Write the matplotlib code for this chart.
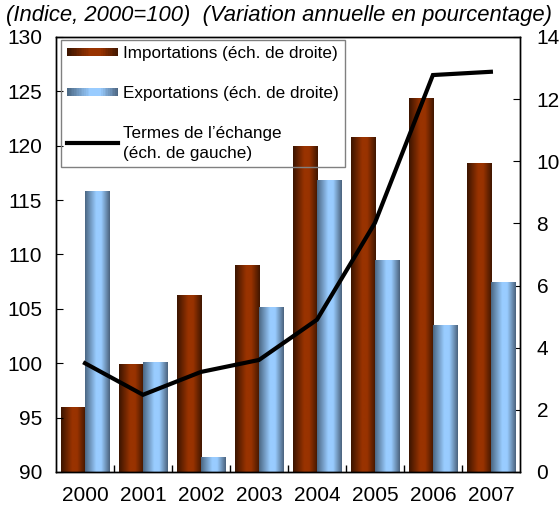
import numpy as np
import matplotlib
matplotlib.use('Agg')
import matplotlib.pyplot as plt
from matplotlib.patches import Rectangle
from matplotlib.lines import Line2D
from matplotlib.legend_handler import HandlerBase
from matplotlib.colors import LinearSegmentedColormap

plt.rcParams['font.family'] = ['Liberation Sans', 'DejaVu Sans']

# Données
annees = ['2000', '2001', '2002', '2003', '2004', '2005', '2006', '2007']
importations = [2.1, 3.48, 5.70, 6.66, 10.49, 10.78, 12.03, 9.94]   # éch. de droite
exportations = [9.05, 3.54, 0.48, 5.31, 9.40, 6.82, 4.73, 6.12]     # éch. de droite
termes_echange = [100.0, 97.1, 99.2, 100.3, 104.0, 112.9, 126.5, 126.8]  # éch. de gauche

# Dégradés horizontaux des barres
cmap_imp = LinearSegmentedColormap.from_list(
    'imp', [(0, '#3a1400'), (0.45, '#993300'), (0.65, '#993300'), (1, '#3f1600')])
cmap_exp = LinearSegmentedColormap.from_list(
    'exp', [(0, '#4a6682'), (0.45, '#99ccff'), (0.65, '#99ccff'), (1, '#4a627c')])


class HandlerGradient(HandlerBase):
    def __init__(self, cmap, n=30):
        super().__init__()
        self.cmap = cmap
        self.n = n

    def create_artists(self, legend, orig_handle, xdescent, ydescent,
                       width, height, fontsize, trans):
        arts = []
        h = height * 0.7
        y0 = -ydescent + (height - h) / 2
        for i in range(self.n):
            r = Rectangle((-xdescent + width * i / self.n, y0), width / self.n * 1.05, h,
                          facecolor=self.cmap((i + 0.5) / self.n), edgecolor='none',
                          transform=trans)
            arts.append(r)
        return arts


fig = plt.figure(figsize=(5.59, 5.08), dpi=100)
ax = fig.add_axes([0.1002, 0.0709, 0.8298, 0.8563])
ax2 = ax.twinx()
ax.set_zorder(ax2.get_zorder() + 1)
ax.patch.set_visible(False)

x = np.arange(len(annees))
w = 0.42
bars_imp = ax2.bar(x - w / 2, importations, width=w, color='#993300', edgecolor='none')
bars_exp = ax2.bar(x + w / 2, exportations, width=w, color='#99ccff', edgecolor='none')

grad = np.linspace(0, 1, 256).reshape(1, -1)
for bars, cmap in [(bars_imp, cmap_imp), (bars_exp, cmap_exp)]:
    for b in bars:
        x0, y0 = b.get_x(), b.get_y()
        im = ax2.imshow(grad, cmap=cmap, aspect='auto', interpolation='bilinear',
                        extent=[x0, x0 + b.get_width(), y0, y0 + b.get_height()], zorder=2)
        im.set_clip_path(b)

ax.plot(x, termes_echange, color='black', linewidth=3, solid_joinstyle='miter')

ax.set_xlim(-0.5, len(annees) - 0.5)
ax.set_ylim(90, 130)
ax.set_yticks(range(90, 131, 5))
ax2.set_ylim(0, 14)
ax2.set_yticks(range(0, 15, 2))

ax.set_xticks(x)
ax.set_xticklabels(annees)
ax.set_xticks(np.arange(0.5, len(annees) - 1, 1), minor=True)
ax.tick_params(axis='x', which='major', length=0, pad=10, labelsize=15)
ax.tick_params(axis='x', which='minor', length=5, direction='in', width=1)
ax.tick_params(axis='y', direction='in', length=5, labelsize=15, pad=10)
ax2.tick_params(axis='y', direction='in', length=5, labelsize=15, pad=12)
ax2.tick_params(axis='x', length=0)

for a in (ax, ax2):
    for s in a.spines.values():
        s.set_linewidth(1.0)
        s.set_color('black')

h_imp = Rectangle((0, 0), 1, 1)
h_exp = Rectangle((0, 0), 1, 1)
h_line = Line2D([], [], color='black', linewidth=3)
leg = ax.legend([h_imp, h_exp, h_line],
                ['Importations (éch. de droite)', 'Exportations (éch. de droite)',
                 'Termes de l\u2019échange\n(éch. de gauche)'],
                handler_map={h_imp: HandlerGradient(cmap_imp), h_exp: HandlerGradient(cmap_exp)},
                loc='upper left', bbox_to_anchor=(0.011, 0.993), borderaxespad=0,
                fontsize=12.3, handlelength=3.0, handletextpad=0.3, labelspacing=1.45,
                fancybox=False, frameon=True, borderpad=0.35, framealpha=1)
for t in leg.get_texts():
    t.set_linespacing(1.45)
leg.get_frame().set_edgecolor('#808080')
leg.get_frame().set_facecolor('none')
leg.get_frame().set_linewidth(1.0)

fig.text(0.5, 0.969, '(Indice, 2000=100)  (Variation annuelle en pourcentage)',
         ha='center', va='center', fontsize=15.8, style='italic')

fig.savefig('out.png', dpi=100)
